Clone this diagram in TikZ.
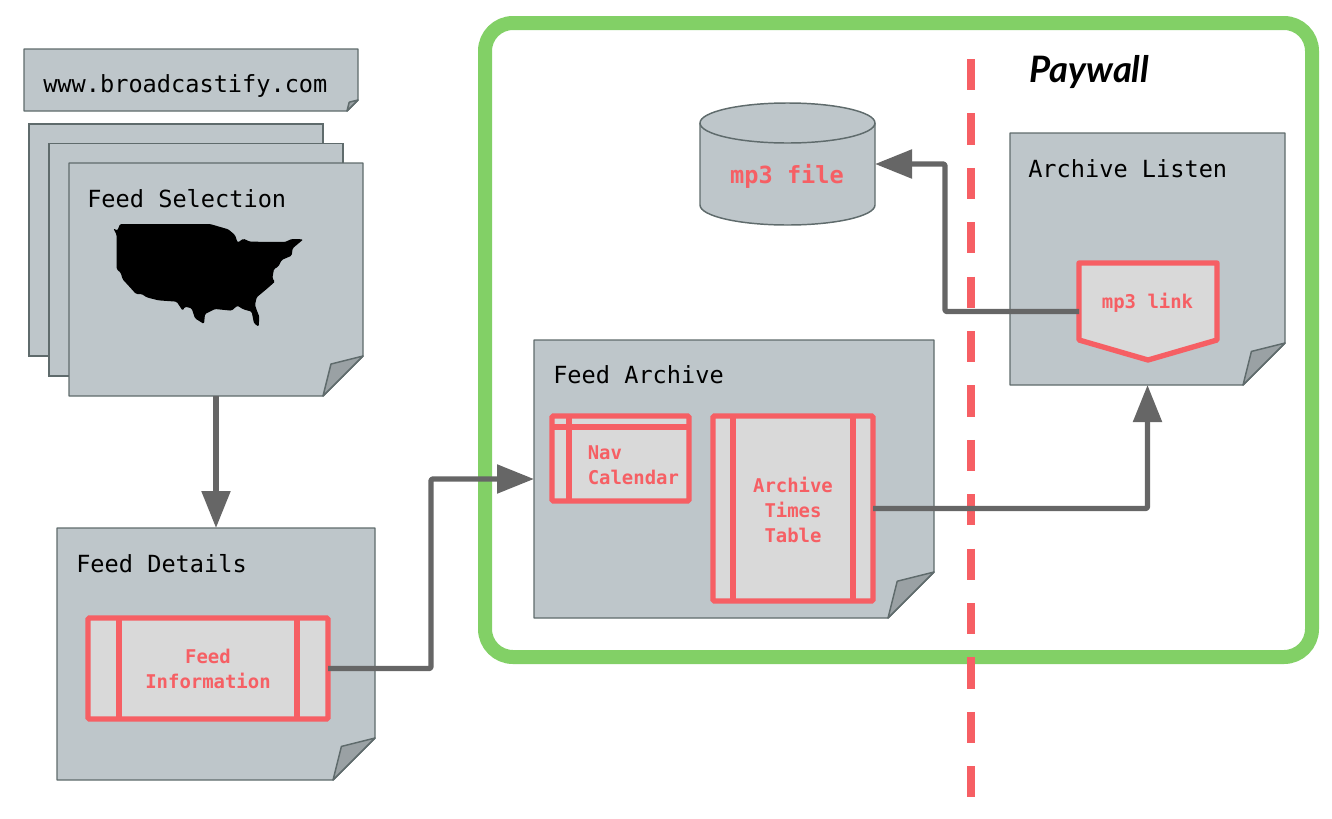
\documentclass[tikz,border=0pt]{standalone}
\usepackage{fontspec}
\setmonofont{DejaVu Sans Mono}
\newfontfamily\paywallfont{Lato}
\usetikzlibrary{arrows.meta, calc, fit}
\definecolor{pagefill}{HTML}{BEC6CA}
\definecolor{pageline}{HTML}{5F6B6C}
\definecolor{foldfill}{HTML}{9AA1A4}
\definecolor{alertred}{HTML}{F65F64}
\definecolor{boxfill}{HTML}{D9D9D9}
\definecolor{wallgreen}{HTML}{82D066}
\definecolor{flowgrey}{HTML}{666666}
\tikzset{
    pagearea/.style={inner sep=0pt, outer sep=0pt},
    backpage/.style={pagearea, draw=pageline, fill=pagefill, line width=1.1pt},
    pagetitle/.style={anchor=base west, inner sep=0pt, font=\ttfamily\fontsize{17.7}{20}\selectfont},
    redbox/.style={pagearea, draw=alertred, fill=boxfill, line width=4pt, rounded corners=1pt},
    redtext/.style={inner sep=0pt, align=center, text=alertred, font=\ttfamily\bfseries\fontsize{14.2}{18.75}\selectfont},
    flowline/.style={draw=flowgrey, line width=4pt, line join=round, rounded corners=1.5pt},
    flowarrow/.style={flowline, -{Triangle[length=27.75pt, width=21pt]}}
}
\newcommand{\tikznotepage}[6]{%
    \node[pagearea, fit={(#2,#3)(#4,#5)}] (#1) {};
    \draw[draw=pageline, fill=pagefill, line width=1.1pt, line join=round] (#1.north west) -- (#1.north east) -- ($(#1.south east)+(0,-#6)$) -- ($(#1.south east)+(-#6,0)$) -- (#1.south west) -- cycle;
    \draw[draw=pageline, fill=foldfill, line width=1.1pt, line join=round] ($(#1.south east)+(0,-#6)$) -- ($(#1.south east)+(-0.8*#6,-0.8*#6)$) -- ($(#1.south east)+(-#6,0)$) -- cycle;
}
\newcommand{\tikzsidebars}[2]{%
    \draw[draw=alertred, line width=4pt] ($(#1.north west)+(#2,0)$) -- ($(#1.south west)+(#2,0)$);
    \draw[draw=alertred, line width=4pt] ($(#1.north east)+(-#2,0)$) -- ($(#1.south east)+(-#2,0)$);
}
\begin{document}
\begin{tikzpicture}[x=0.75pt, y=-0.75pt]
            \useasboundingbox (0,0) rectangle (1332,818);

            \node[pagearea, fit={(485,23)(1312,657)}] (wallframe) {};
            \draw[draw=wallgreen, line width=10.5pt, rounded corners=21pt] (wallframe.north west) rectangle (wallframe.south east);
            \draw[draw=alertred, line width=6pt, dash pattern=on 23.4pt off 17.4pt] (971,59) -- (971,797);
            \node[anchor=base west, inner sep=0pt, font=\paywallfont\bfseries\itshape\fontsize{27.3}{30}\selectfont] (paywall) at (1029.5,82) {Paywall};

            \tikznotepage{sitepage}{24}{49}{358}{111}{11}
            \node[pagetitle] (sitetitle) at (43,92) {www.broadcastify.com};

            \node[backpage, fit={(29,124)(323,356)}] (selectbackA) {};
            \node[backpage, fit={(49,143.5)(343,376)}] (selectbackB) {};
            \tikznotepage{feedselect}{69}{163}{363}{396}{40}
            \node[pagetitle] (selecttitle) at (87,207) {Feed Selection};
            \begin{scope}[shift={(100,210)}, x=0.25pt, y=-0.25pt]
                \fill[black, rounded corners=1pt] (40,55) -- (52,62) -- (60,42) -- (330,42) -- (385,58) -- (405,75) -- (413,98) -- (430,86) -- (450,95) -- (555,96) -- (575,87) -- (610,88) -- (578,115) -- (575,137) -- (545,150) -- (535,170) -- (522,177) -- (517,205) -- (525,215) -- (500,237) -- (470,262) -- (465,285) -- (470,300) -- (478,320) -- (476,350) -- (462,340) -- (455,305) -- (430,298) -- (412,287) -- (395,302) -- (345,297) -- (315,312) -- (312,342) -- (285,325) -- (275,295) -- (255,290) -- (248,302) -- (230,275) -- (175,271) -- (140,262) -- (125,252) -- (108,252) -- (90,232) -- (68,208) -- (62,188) -- (50,178) -- (50,75) -- cycle;
            \end{scope}

            \tikznotepage{feeddetails}{57}{528}{375}{780}{42}
            \node[pagetitle] (detailstitle) at (76,572) {Feed Details};
            \node[redbox, fit={(88,618)(328,719)}] (feedinfo) {};
            \tikzsidebars{feedinfo}{31}
            \node[redtext] (feedinfotext) at (208,669) {Feed\\Information};

            \tikznotepage{feedarchive}{534}{340}{934}{618}{46}
            \node[pagetitle] (archivetitle) at (553,383) {Feed Archive};
            \node[redbox, fit={(552,416)(689,501)}] (navcal) {};
            \draw[draw=alertred, line width=4pt] (navcal.west |- 0,427) -- (navcal.east |- 0,427);
            \draw[draw=alertred, line width=4pt] ($(navcal.north west)+(17,0)$) -- ($(navcal.south west)+(17,0)$);
            \node[redtext, align=left, anchor=west] (navcaltext) at (587.5,465) {Nav\\Calendar};
            \node[redbox, fit={(713,416)(873,601)}] (timestable) {};
            \tikzsidebars{timestable}{20}
            \node[redtext] (timestext) at (793,509.5) {Archive\\Times\\Table};

            \tikznotepage{archivelisten}{1010}{133}{1285}{385}{42}
            \node[pagetitle] (listentitle) at (1028,177) {Archive Listen};
            \node[pagearea, fit={(1079,263)(1217,360)}] (mplink) {};
            \draw[draw=alertred, fill=boxfill, line width=4pt, line join=round] (mplink.north west) -- (mplink.north east) -- ($(mplink.south east)+(0,-20)$) -- (mplink.south) -- ($(mplink.south west)+(0,-20)$) -- cycle;
            \node[redtext] (mplinktext) at (1147.5,303) {mp3 link};

            \node[pagearea, fit={(700,103)(875,225)}] (mpfile) {};
            \draw[draw=pageline, fill=pagefill, line width=1.1pt] ($(mpfile.north west)+(0,20)$) -- ($(mpfile.south west)+(0,-20)$) arc[start angle=180, end angle=360, x radius=65.625pt, y radius=15pt] -- ($(mpfile.north east)+(0,20)$) arc[start angle=0, end angle=180, x radius=65.625pt, y radius=15pt] -- cycle;
            \draw[draw=pageline, line width=1.1pt] ($(mpfile.north west)+(0,20)$) arc[start angle=180, end angle=360, x radius=65.625pt, y radius=15pt];
            \node[redtext, font=\ttfamily\bfseries\fontsize{17.7}{20}\selectfont] (mpfiletext) at (787,176) {mp3 file};

            \coordinate (bendinfo) at (431,0);
            \coordinate (bendlink) at (945,0);

            \draw[flowarrow] (feedselect.south) -- (feeddetails.north);
            \draw[flowarrow] (feedinfo.east) -- (feedinfo.east -| bendinfo) -- (feedarchive.west -| bendinfo) -- (feedarchive.west);
            \draw[flowarrow] (timestable.east) -| (archivelisten.south);
            \draw[flowarrow] (mplink.west) -- (mplink.west -| bendlink) -- (mpfile.east -| bendlink) -- (mpfile.east);
        \end{tikzpicture}
\end{document}
